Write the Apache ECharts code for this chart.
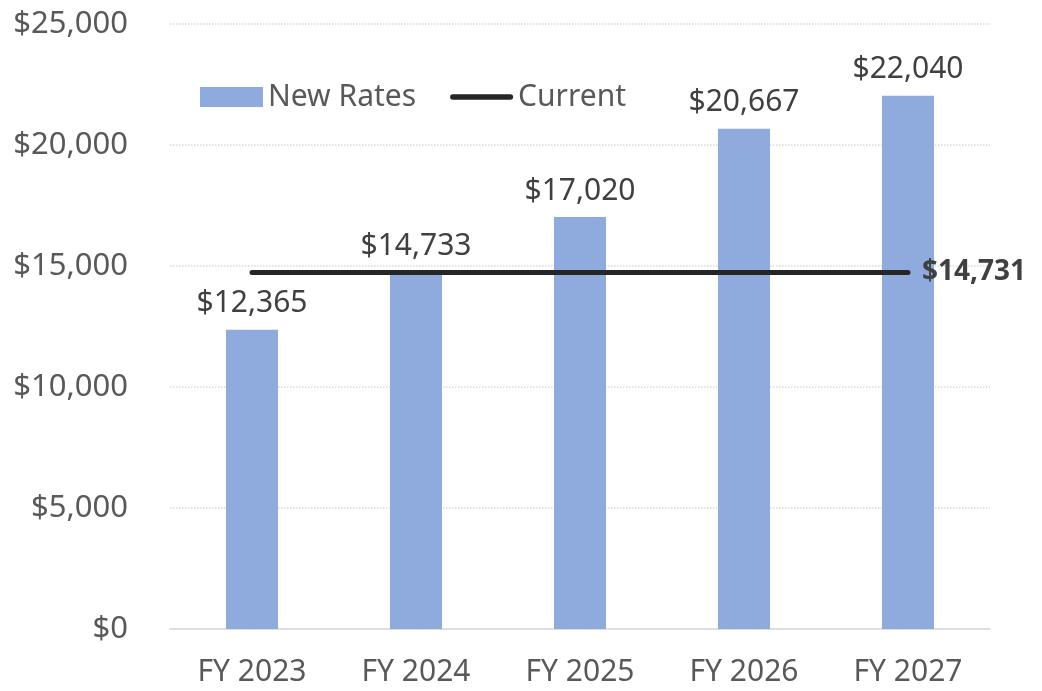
<!DOCTYPE html>
<html>
<head>
<meta charset="utf-8">
<script src="https://cdn.jsdelivr.net/npm/echarts@6/dist/echarts.min.js"></script>
<style>
  html, body { margin: 0; padding: 0; background: #fff; }
  #main { width: 1042px; height: 691px; }
</style>
</head>
<body>
<div id="main"></div>
<script>
const categories = ['FY 2023', 'FY 2024', 'FY 2025', 'FY 2026', 'FY 2027']
const newRates = [12365, 14733, 17020, 20667, 22040]
const current = [14731, 14731, 14731, 14731, 14731]

const money = v => '$' + Number(v).toLocaleString('en-US')
const font = '"Noto Sans", sans-serif'

var myChart = echarts.init(document.getElementById('main'))

myChart.setOption({
  animation: false,
  textStyle: { fontFamily: font },
  legend: {
    left: 195,
    top: 77,
    itemWidth: 63,
    itemHeight: 20,
    itemGap: 34,
    textStyle: { fontSize: 30, color: '#595959', fontFamily: font },
    data: [
      { name: 'New Rates', icon: 'rect' },
      // thick line with round caps, like the series
      { name: 'Current', icon: 'path://M3,0 H67 A3,3 0 0 1 67,6 H3 A3,3 0 0 1 3,0 Z' }
    ]
  },
  grid: { left: 170, right: 52, top: 24, bottom: 62 },
  xAxis: {
    type: 'category',
    data: categories,
    axisTick: { show: false },
    axisLine: { lineStyle: { color: '#d9d9d9', width: 1.5 } },
    axisLabel: { fontSize: 30, color: '#595959', margin: 28, fontFamily: font }
  },
  yAxis: {
    type: 'value',
    min: 0,
    max: 25000,
    interval: 5000,
    axisLine: { show: false },
    axisTick: { show: false },
    splitLine: { lineStyle: { color: '#d9d9d9', type: 'dotted', width: 1.5 } },
    axisLabel: { fontSize: 31, color: '#595959', margin: 42, formatter: money, fontFamily: font }
  },
  series: [
    {
      name: 'New Rates',
      type: 'bar',
      data: newRates,
      barWidth: 52,
      itemStyle: { color: '#8faadc' },
      label: {
        show: true,
        position: 'top',
        distance: 11,
        fontSize: 30,
        color: '#404040',
        fontFamily: font,
        formatter: p => money(p.value)
      }
    },
    {
      name: 'Current',
      type: 'line',
      data: current,
      symbol: 'none',
      z: 5,
      lineStyle: { color: '#262626', width: 5, cap: 'round' },
      itemStyle: { color: '#262626' },
      endLabel: {
        show: true,
        distance: 14,
        fontSize: 28,
        fontWeight: 'bold',
        color: '#404040',
        fontFamily: font,
        formatter: p => money(p.value)
      }
    }
  ]
})
</script>
</body>
</html>
